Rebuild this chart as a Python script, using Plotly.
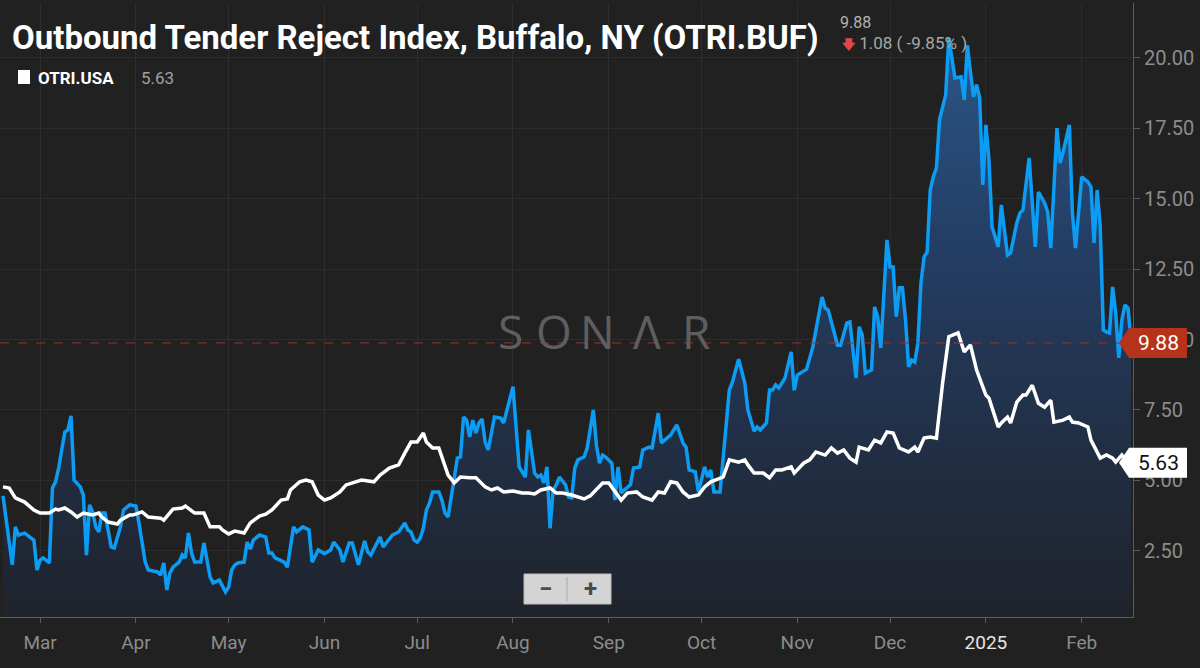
import pandas as pd
import plotly.graph_objects as go

# ---------------- data ----------------
start_date = "2024-02-18"

buf_day = [0, 3, 4, 5, 7, 10, 11, 12, 13, 15,
           16, 17, 18, 20, 21, 22, 23, 25, 26, 27,
           28, 29, 30, 31, 32, 33, 35, 36, 38, 39,
           41, 43, 44, 46, 47, 50, 51, 52, 53, 54,
           55, 57, 58, 59, 60, 61, 62, 64, 65, 66,
           67, 68, 70, 72, 73, 74, 75, 76, 78, 79,
           80, 81, 83, 85, 86, 87, 88, 91, 92, 94,
           95, 97, 99, 100, 102, 104, 106, 107, 109, 110,
           112, 113, 115, 117, 118, 119, 121, 122, 123, 125,
           126, 128, 130, 131, 132, 133, 134, 135, 136, 137,
           138, 139, 141, 142, 143, 144, 145, 146, 147, 148,
           149, 150, 151, 152, 153, 154, 155, 156, 157, 159,
           161, 162, 164, 165, 167, 168, 169, 170, 172, 173,
           174, 175, 176, 177, 178, 179, 180, 182, 183, 184,
           185, 186, 188, 189, 191, 192, 193, 194, 195, 197,
           198, 199, 200, 201, 203, 204, 206, 207, 209, 210,
           212, 213, 215, 216, 218, 220, 221, 222, 224, 225,
           227, 228, 229, 230, 232, 233, 235, 236, 238, 240,
           241, 243, 244, 245, 247, 248, 249, 250, 251, 253,
           255, 256, 257, 259, 260, 262, 265, 266, 267, 270,
           271, 273, 274, 276, 277, 278, 279, 281, 282, 283,
           284, 286, 287, 288, 289, 290, 291, 292, 293, 294,
           295, 296, 297, 298, 299, 300, 301, 302, 303, 305,
           306, 308, 310, 311, 312, 313, 314, 315, 316, 317,
           318, 319, 320, 322, 323, 325, 326, 328, 329, 330,
           332, 334, 335, 337, 338, 339, 341, 342, 343, 345,
           346, 347, 349, 351, 352, 353, 354, 355, 356, 357,
           358, 359, 360, 361, 362, 363, 364, 365]

buf_val = [4.45, 2.00, 3.35, 3.06, 3.13, 2.88, 1.82, 2.17, 2.25, 2.07,
           4.73, 4.95, 5.44, 6.72, 6.79, 7.29, 5.01, 4.77, 4.48, 2.35,
           4.13, 3.88, 3.35, 3.17, 3.84, 3.84, 2.64, 2.60, 3.35, 3.95,
           4.13, 4.09, 3.49, 2.10, 1.82, 1.75, 1.64, 2.07, 1.11, 1.71,
           1.92, 2.10, 2.35, 2.25, 3.13, 2.42, 2.10, 2.10, 2.78, 2.25,
           1.57, 1.36, 1.46, 1.04, 1.21, 1.82, 2.00, 2.07, 2.10, 2.81,
           2.56, 2.88, 3.06, 2.99, 2.42, 2.42, 2.25, 2.10, 1.92, 3.35,
           3.17, 3.35, 3.24, 2.10, 2.53, 2.40, 2.53, 2.81, 2.53, 2.10,
           2.78, 2.78, 2.00, 2.85, 2.46, 2.35, 2.78, 2.99, 2.64, 2.95,
           3.06, 3.17, 3.49, 3.24, 3.17, 2.88, 2.81, 2.95, 3.31, 3.95,
           4.20, 4.59, 4.59, 4.30, 3.84, 3.70, 4.38, 5.01, 5.79, 5.83,
           7.25, 7.14, 6.54, 7.14, 6.68, 7.04, 7.18, 6.36, 6.08, 7.25,
           7.21, 7.04, 7.96, 8.33, 5.48, 5.30, 5.12, 6.79, 5.26, 5.12,
           5.19, 4.91, 5.48, 3.30, 4.66, 4.84, 5.12, 4.84, 4.41, 4.38,
           5.44, 5.73, 5.83, 6.15, 7.50, 6.25, 5.61, 5.90, 5.83, 5.61,
           4.30, 5.48, 4.55, 4.66, 4.84, 5.44, 5.48, 6.08, 6.18, 6.15,
           7.39, 6.33, 6.54, 6.61, 6.97, 6.33, 6.18, 5.37, 5.30, 4.59,
           5.48, 5.12, 5.37, 4.59, 4.59, 5.83, 8.21, 8.49, 9.30, 8.46,
           7.50, 6.75, 6.90, 6.79, 7.04, 8.21, 8.21, 8.39, 8.28, 8.63,
           9.56, 8.20, 8.74, 8.88, 8.95, 9.73, 11.51, 11.12, 11.05, 9.80,
           9.80, 10.59, 10.63, 8.63, 10.45, 10.17, 8.81, 8.92, 11.16, 10.81,
           9.70, 13.54, 12.58, 12.58, 10.81, 11.84, 11.84, 10.70, 9.03, 9.27,
           9.20, 9.88, 12.01, 12.93, 13.11, 15.31, 15.78, 16.10, 17.80, 18.69,
           20.70, 19.29, 19.33, 18.51, 20.45, 19.51, 18.62, 19.05, 18.58, 15.49,
           17.62, 16.38, 14.00, 13.29, 14.78, 13.00, 13.08, 14.14, 14.49, 14.60,
           16.45, 13.29, 15.24, 14.85, 14.53, 13.25, 17.51, 16.27, 16.66, 17.62,
           14.49, 13.25, 15.78, 15.60, 15.42, 13.43, 15.31, 14.00, 10.34, 10.27,
           10.23, 11.87, 10.95, 9.35, 10.70, 11.23, 11.12, 9.88]

usa_day = [0, 2, 4, 7, 10, 12, 15, 17, 18, 20,
           22, 24, 26, 29, 31, 32, 34, 37, 38, 41,
           42, 45, 47, 51, 52, 55, 58, 59, 62, 65,
           67, 70, 71, 73, 75, 78, 80, 83, 85, 87,
           90, 92, 93, 96, 98, 100, 102, 104, 106, 109,
           111, 113, 116, 120, 122, 125, 128, 130, 132, 134,
           136, 137, 139, 141, 143, 144, 146, 148, 151, 153,
           156, 158, 160, 162, 165, 168, 170, 172, 174, 177,
           179, 181, 184, 186, 188, 190, 194, 196, 198, 200,
           202, 205, 207, 210, 212, 214, 216, 218, 220, 222,
           225, 227, 229, 233, 235, 238, 240, 241, 243, 246,
           248, 250, 252, 255, 256, 259, 261, 263, 266, 268,
           270, 272, 274, 276, 277, 280, 282, 284, 286, 288,
           290, 293, 295, 296, 298, 300, 302, 304, 306, 309,
           311, 313, 315, 318, 319, 322, 323, 325, 326, 328,
           330, 331, 333, 335, 337, 339, 340, 343, 345, 346,
           348, 351, 352, 355, 357, 359, 360, 362, 364, 365]

usa_val = [4.77, 4.73, 4.38, 4.23, 3.95, 3.84, 3.84, 3.98, 3.95, 4.02,
           3.88, 3.70, 3.84, 3.77, 3.84, 3.70, 3.52, 3.45, 3.59, 3.77,
           3.77, 3.88, 3.70, 3.66, 3.59, 3.98, 4.02, 4.09, 3.84, 3.84,
           3.35, 3.35, 3.24, 3.10, 3.20, 3.13, 3.49, 3.73, 3.80, 3.95,
           4.30, 4.34, 4.66, 4.95, 5.01, 4.95, 4.48, 4.30, 4.38, 4.59,
           4.84, 4.91, 5.01, 4.95, 5.19, 5.44, 5.55, 5.97, 6.36, 6.36,
           6.68, 6.36, 6.15, 6.15, 5.55, 5.19, 4.91, 5.12, 5.09, 5.09,
           4.77, 4.66, 4.73, 4.59, 4.62, 4.55, 4.55, 4.52, 4.66, 4.73,
           4.55, 4.55, 4.48, 4.41, 4.34, 4.45, 4.91, 4.91, 4.59, 4.30,
           4.55, 4.59, 4.41, 4.30, 4.59, 4.55, 4.95, 4.91, 4.59, 4.41,
           4.48, 4.77, 4.95, 5.12, 5.73, 5.65, 5.73, 5.55, 5.26, 5.26,
           5.09, 5.37, 5.37, 5.48, 5.26, 5.61, 5.73, 6.01, 5.90, 6.15,
           5.97, 6.08, 5.79, 5.65, 6.18, 6.08, 6.43, 6.33, 6.72, 6.68,
           6.15, 6.01, 6.18, 6.01, 6.50, 6.54, 6.50, 8.46, 10.10, 10.24,
           9.56, 9.81, 8.92, 8.03, 7.92, 6.90, 7.04, 7.25, 7.04, 7.78,
           8.03, 8.03, 8.38, 7.74, 7.60, 7.85, 7.07, 7.14, 7.25, 7.07,
           7.04, 6.90, 6.43, 5.79, 5.90, 5.79, 5.65, 5.90, 5.61, 5.63]

month_ticks = ["2024-03-01", "2024-04-01", "2024-05-01", "2024-06-01", "2024-07-01",
               "2024-08-01", "2024-09-01", "2024-10-01", "2024-11-01", "2024-12-01",
               "2025-01-01", "2025-02-01"]
month_labels = ["Mar", "Apr", "May", "Jun", "Jul", "Aug", "Sep", "Oct", "Nov", "Dec",
                "<span style='color:#e6e6e6'>2025</span>", "Feb"]
y_ticks = [2.5, 5.0, 7.5, 10.0, 12.5, 15.0, 17.5, 20.0]

title_text = "Outbound Tender Reject Index, Buffalo, NY (OTRI.BUF)"
buf_last, buf_change, buf_pct = 9.88, 1.08, -9.85
usa_name, usa_last = "OTRI.USA", 5.63

assert len(buf_day) == len(buf_val), (len(buf_day), len(buf_val))
assert len(usa_day) == len(usa_val), (len(usa_day), len(usa_val))

# ---------------- figure ----------------
t0 = pd.Timestamp(start_date)
buf_x = t0 + pd.to_timedelta(buf_day, unit="D")
usa_x = t0 + pd.to_timedelta(usa_day, unit="D")

Y0, Y1 = 0.15, 21.95
BG = "#212121"
GRID = "#2d2d2d"
FONT = "Roboto"

fig = go.Figure()
fig.add_trace(go.Scatter(
    x=buf_x, y=buf_val, mode="lines", fill="tozeroy",
    line=dict(color="#0d9cf4", width=3.5),
    fillgradient=dict(type="vertical", start=0, stop=21,
                      colorscale=[[0, "#1f232b"], [0.3, "#212f45"],
                                  [0.65, "#243f66"], [1, "#2b5688"]]),
    hoverinfo="skip", showlegend=False))
fig.add_trace(go.Scatter(
    x=usa_x, y=usa_val, mode="lines",
    line=dict(color="#ffffff", width=3.5),
    hoverinfo="skip", showlegend=False))

def py(v):
    return (v - Y0) / (Y1 - Y0)

W_PLOT, H_PLOT = 1133.0, 614.0
def px(p):
    return p / W_PLOT
def pyy(p):  # pixel from top of page -> paper y
    return (617.0 - p) / H_PLOT

shapes = []
shapes.append(dict(type="line", xref="paper", yref="y", x0=0, x1=1, y0=buf_last, y1=buf_last,
                   line=dict(color="#9c3526", width=1, dash="dash"), layer="above"))

def tag(value, color):
    yc = py(value)
    h = 15 / H_PLOT
    xt, xb, xr = px(1119), px(1129), px(1187)
    return dict(type="path", xref="paper", yref="paper",
                path=f"M {xt},{yc} L {xb},{yc + h} L {xr},{yc + h} L {xr},{yc - h} L {xb},{yc - h} Z",
                fillcolor=color, line=dict(width=0), layer="above")

shapes.append(tag(buf_last, "#b5331a"))
shapes.append(tag(usa_last, "#ffffff"))
shapes.append(dict(type="rect", xref="paper", yref="paper", x0=px(18), x1=px(30),
                   y0=pyy(84), y1=pyy(70), fillcolor="#ffffff", line=dict(width=0)))
shapes.append(dict(type="rect", xref="paper", yref="paper", x0=px(524), x1=px(611),
                   y0=pyy(604), y1=pyy(574), fillcolor="#d4d4d4",
                   line=dict(color="#bdbdbd", width=1), layer="above"))
shapes.append(dict(type="line", xref="paper", yref="paper", x0=px(567), x1=px(567),
                   y0=pyy(601), y1=pyy(577), line=dict(color="#aaaaaa", width=1), layer="above"))

ann = []
ann.append(dict(text=f"<b>{title_text}</b>", xref="paper", yref="paper", x=px(10), y=pyy(37),
                xanchor="left", yanchor="middle", showarrow=False,
                font=dict(family=FONT, size=33, color="#ffffff")))
ann.append(dict(text=f"{buf_last:.2f}", xref="paper", yref="paper", x=px(838), y=pyy(22),
                xanchor="left", yanchor="middle", showarrow=False,
                font=dict(family=FONT, size=16, color="#b4b4b4")))
ann.append(dict(text=f"<span style='color:#e0474c;font-size:13px'><b>🡇</b></span> {buf_change:.2f} ( {buf_pct:.2f}% )",
                xref="paper", yref="paper", x=px(840), y=pyy(43),
                xanchor="left", yanchor="middle", showarrow=False,
                font=dict(family=FONT, size=17, color="#a8a8a8")))
ann.append(dict(text=f"<b>{usa_name}</b>", xref="paper", yref="paper", x=px(36), y=pyy(78),
                xanchor="left", yanchor="middle", showarrow=False,
                font=dict(family=FONT, size=17, color="#ffffff")))
ann.append(dict(text=f"{usa_last:.2f}", xref="paper", yref="paper", x=px(139), y=pyy(78),
                xanchor="left", yanchor="middle", showarrow=False,
                font=dict(family=FONT, size=17, color="#a0a0a0")))
ann.append(dict(text=f"{buf_last:.2f}", xref="paper", yref="paper", x=px(1158), y=py(buf_last),
                xanchor="center", yanchor="middle", showarrow=False,
                font=dict(family=FONT, size=21, color="#ffffff")))
ann.append(dict(text=f"{usa_last:.2f}", xref="paper", yref="paper", x=px(1158), y=py(usa_last),
                xanchor="center", yanchor="middle", showarrow=False,
                font=dict(family=FONT, size=21, color="#111111")))
for ch, cx in zip(["S", "O", "N", "Λ", "R"], [510, 554, 598, 647, 696]):
    ann.append(dict(text=ch, xref="paper", yref="paper", x=px(cx), y=pyy(331),
                    xanchor="center", yanchor="middle", showarrow=False,
                    font=dict(family="Open Sans", size=46, color="#5e5e5e", weight=400)))
ann.append(dict(text="<b>−</b>", xref="paper", yref="paper", x=px(545), y=pyy(589),
                xanchor="center", yanchor="middle", showarrow=False,
                font=dict(family=FONT, size=24, color="#4a4a4a")))
ann.append(dict(text="<b>+</b>", xref="paper", yref="paper", x=px(590), y=pyy(589),
                xanchor="center", yanchor="middle", showarrow=False,
                font=dict(family=FONT, size=24, color="#4a4a4a")))

x_lo = t0 - pd.Timedelta(days=0.97)
x_hi = t0 + pd.Timedelta(days=365.6)

fig.update_layout(
    width=1200, height=668, autosize=False,
    paper_bgcolor=BG, plot_bgcolor=BG,
    margin=dict(l=0, r=67, t=3, b=51),
    shapes=shapes, annotations=ann,
    showlegend=False,
    xaxis=dict(range=[x_lo, x_hi], tickvals=month_ticks, ticktext=month_labels,
               showgrid=True, gridcolor=GRID, gridwidth=1, zeroline=False,
               showline=True, linecolor="#5c5c5c", linewidth=1,
               ticks="outside", ticklen=5, tickcolor="#5c5c5c",
               tickfont=dict(family=FONT, size=19, color="#8c8c8c"),
               ticklabelstandoff=3, fixedrange=True),
    yaxis=dict(range=[Y0, Y1], side="right", tickvals=y_ticks, tickformat=".2f",
               showgrid=True, gridcolor=GRID, gridwidth=1, zeroline=False,
               showline=True, linecolor="#5c5c5c", linewidth=1,
               ticks="outside", ticklen=6, tickcolor="#5c5c5c",
               tickfont=dict(family=FONT, size=20, color="#8c8c8c"),
               fixedrange=True),
)

fig.write_html("out.html", config={"displayModeBar": False},
               post_script="document.body.style.margin='0px';document.body.style.background='#212121';")
